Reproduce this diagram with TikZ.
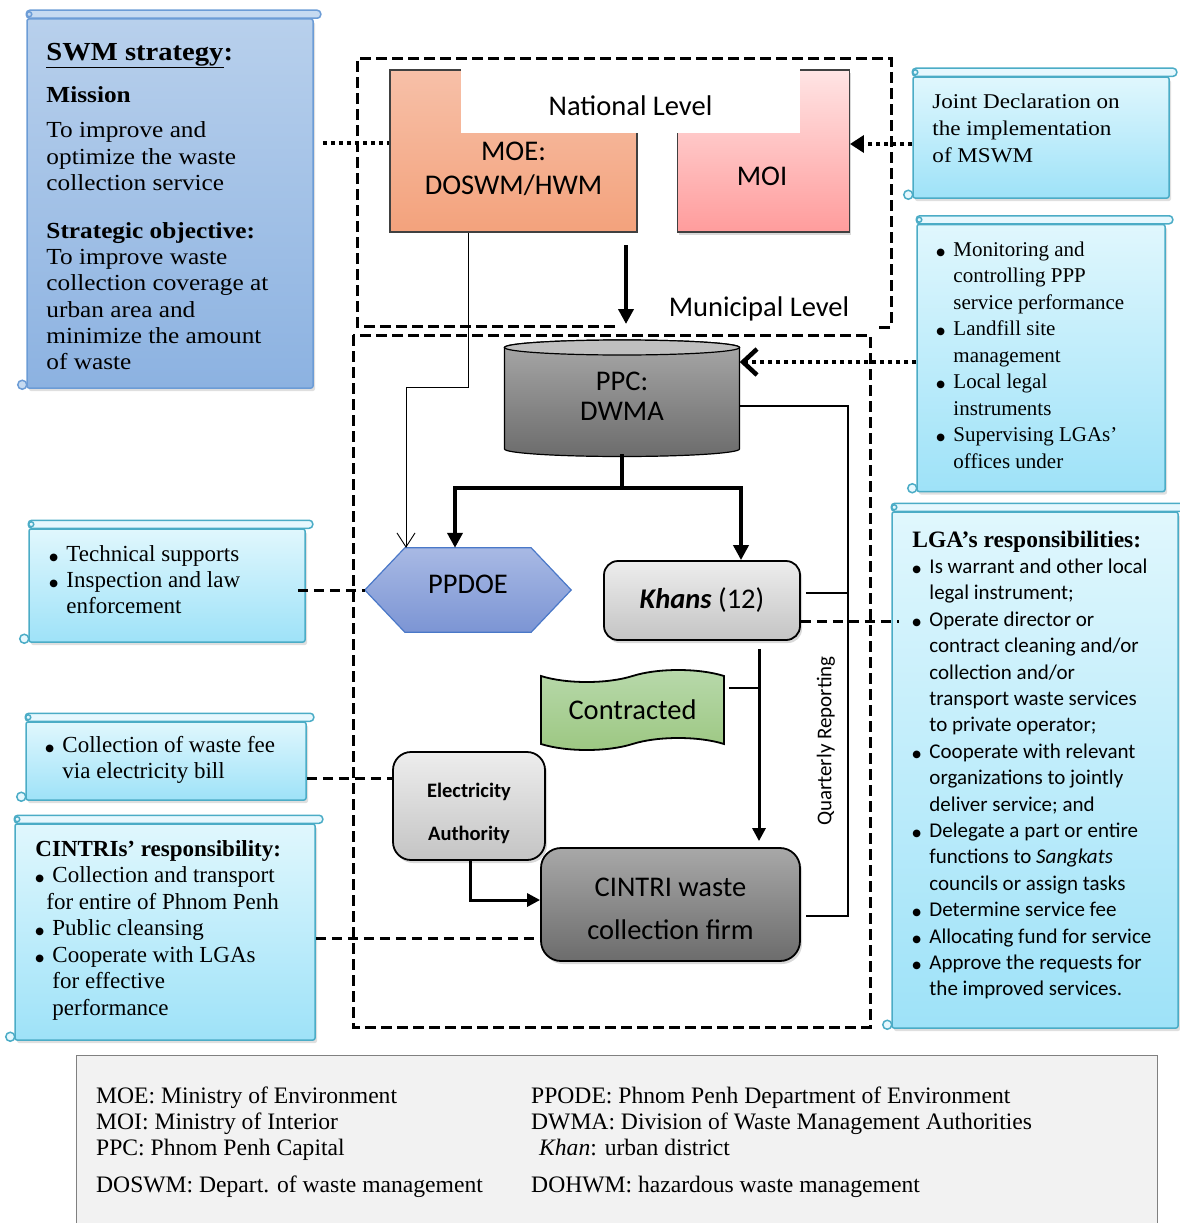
\documentclass[tikz,border=0pt]{standalone}
\usepackage{fontspec}
\setmainfont{Liberation Serif}
\newfontfamily\calibriFont{Carlito}
\newfontfamily\antiquaFont[FakeStretch=1.1]{Liberation Serif}
\newfontfamily\symbolFont{DejaVu Sans}
\usepackage{xcolor}
\definecolor{noteEdge}{HTML}{4BACC6}
\definecolor{noteTop}{HTML}{E0F7FD}
\definecolor{noteBottom}{HTML}{9EE2F8}
\definecolor{noteRim}{HTML}{E6F8FE}
\definecolor{swmEdge}{HTML}{6C9CD6}
\definecolor{swmTop}{HTML}{B8D0EC}
\definecolor{swmBottom}{HTML}{8CB2E1}
\definecolor{swmRim}{HTML}{C6DAF1}
\definecolor{moeTop}{HTML}{F7C0A8}
\definecolor{moeBottom}{HTML}{F3A27C}
\definecolor{moiTop}{HTML}{FFE4E4}
\definecolor{moiBottom}{HTML}{FF9C9C}
\definecolor{hexEdge}{HTML}{4A78C8}
\definecolor{hexTop}{HTML}{A8B9E4}
\definecolor{hexBottom}{HTML}{7C95D4}
\definecolor{greyTop}{HTML}{EDEDED}
\definecolor{greyBottom}{HTML}{C4C4C4}
\definecolor{darkTop}{HTML}{A8A8A8}
\definecolor{darkBottom}{HTML}{6C6C6C}
\definecolor{cylTop}{HTML}{BFBFBF}
\definecolor{tapeTop}{HTML}{B8D9AB}
\definecolor{tapeBottom}{HTML}{9CC781}
\definecolor{legendFill}{HTML}{F2F2F2}
\definecolor{legendEdge}{HTML}{808080}
\usepackage{tikz}
\usetikzlibrary{shapes,arrows,positioning,calc,arrows.meta,shapes.misc,shadows,backgrounds}

\newcommand{\bul}{\makebox[17pt][l]{\raisebox{1pt}{\symbolFont\fontsize{10}{10}\selectfont ●}}}
\newcommand{\ind}{\hspace*{17pt}}

\tikzset{%
  scrollNote/.style={%
    rectangle,
    draw=noteEdge,
    line width=1.5pt,
    top color=noteTop,
    bottom color=noteBottom,
    rounded corners=2pt,
    inner sep=0pt,
    drop shadow={shadow xshift=2pt, shadow yshift=-3pt, opacity=0.25}
  },
  strategyNote/.style={%
    scrollNote,
    draw=swmEdge,
    top color=swmTop,
    bottom color=swmBottom
  },
  scrollRim/.style={%
    line width=1.5pt,
    rounded corners=3.5pt
  },
  noteText/.style={%
    anchor=west,
    inner sep=0pt,
    align=left,
    font=\fontsize{21}{26.5}\selectfont
  },
  labelText/.style={%
    inner sep=0pt,
    align=center,
    font=\calibriFont\fontsize{28.5}{34}\selectfont
  },
  ministryBox/.style={%
    rectangle,
    draw=black!75,
    line width=1.3pt,
    inner sep=0pt
  },
  roundBox/.style={%
    rectangle,
    rounded corners=14pt,
    draw=black,
    line width=1.8pt,
    align=center,
    inner sep=0pt,
    font=\calibriFont\fontsize{28.5}{34}\selectfont,
    drop shadow={shadow xshift=2pt, shadow yshift=-3pt, opacity=0.3}
  },
  tapeBox/.style={%
    tape,
    draw=black,
    line width=1.8pt,
    top color=tapeTop,
    bottom color=tapeBottom,
    tape bend top=in and out,
    tape bend bottom=in and out,
    tape bend height=12pt,
    inner sep=0pt,
    font=\calibriFont\fontsize{28.5}{34}\selectfont
  },
  levelFrame/.style={%
    line width=3pt,
    dash pattern=on 11pt off 5pt
  },
  heavyArrow/.style={%
    -{Triangle[length=15pt,width=15pt]},
    line width=4pt
  },
  flowArrow/.style={%
    -{Triangle[length=13pt,width=13pt]},
    line width=3pt
  },
  thinArrow/.style={%
    -{Straight Barb[length=14pt,width=18pt]},
    line width=0.9pt
  },
  reportLine/.style={%
    line width=2pt
  },
  dashedLink/.style={%
    line width=3pt,
    dash pattern=on 10pt off 6pt
  },
  dottedLink/.style={%
    line width=4pt,
    dash pattern=on 4pt off 4pt
  },
  dottedArrow/.style={%
    dottedLink,
    -{Triangle[length=14pt,width=17pt]}
  },
  chevronArrow/.style={%
    dottedLink,
    -{Straight Barb[length=14pt,width=26pt,line width=4.5pt]}
  },
  legendBox/.style={%
    rectangle,
    draw=legendEdge,
    line width=1.2pt,
    fill=legendFill,
    inner sep=0pt
  }
}

\begin{document}
\begin{tikzpicture}[x=1pt, y=-1pt]
\useasboundingbox (0,0) rectangle (1179,1223);

% level frames
\draw[levelFrame] (615,326) -- (357,326) -- (357,59) -- (891,59) -- (891,327) -- (877,327);
\draw[levelFrame] (353,335) rectangle (870,1027);

% national level
\node[ministryBox, top color=moeTop, bottom color=moeBottom, minimum width=247pt, minimum height=162pt] (moe) at (513.5,151) {};
\node[ministryBox, top color=moiTop, bottom color=moiBottom, minimum width=172pt, minimum height=162pt,
      drop shadow={shadow xshift=2pt, shadow yshift=-3pt, opacity=0.3}, right=39pt of moe] (moi) {};
\node[labelText, fill=white, minimum width=339pt, minimum height=65pt] (natLabel) at (630.5,100.5) {\rule{0pt}{31pt}National Level};
\node[labelText] (moeText) at (513.5,169) {MOE:\\DOSWM/HWM};
\node[labelText] (moiText) at (762,176) {MOI};
\node[labelText] (munLabel) at (759,309) {Municipal Level};

% municipal level
\node[labelText, minimum width=235pt, minimum height=116.5pt, font=\calibriFont\fontsize{28.5}{30}\selectfont] (ppc) at (622,396) {PPC:\\DWMA};
\node[labelText, minimum width=206pt, minimum height=84pt, text depth=12pt] (ppdoe) at (468,590) {PPDOE};
\begin{scope}[on background layer]
  \shadedraw[top color=darkTop, bottom color=darkBottom, draw=black, line width=1.2pt]
    (504.5,347.5) -- (504.5,449) arc[start angle=180, end angle=360, x radius=117.5pt, y radius=7.5pt]
    -- (739.5,347.5) arc[start angle=0, end angle=180, x radius=117.5pt, y radius=7.5pt] -- cycle;
  \draw[fill=cylTop, line width=1.2pt] (622,347.5) ellipse[x radius=117.5pt, y radius=7.5pt];
  \shadedraw[top color=hexTop, bottom color=hexBottom, draw=hexEdge, line width=1.2pt]
    (ppdoe.west) -- ([xshift=40pt]ppdoe.north west) -- ([xshift=-40pt]ppdoe.north east)
    -- (ppdoe.east) -- ([xshift=-40pt]ppdoe.south east) -- ([xshift=40pt]ppdoe.south west) -- cycle;
\end{scope}
\node[roundBox, top color=greyTop, bottom color=greyBottom, minimum width=196pt, minimum height=79pt] (khans) at (702,600.5) {\textbf{\textit{Khans}} (12)};
\node[tapeBox, minimum width=183pt, minimum height=80pt] (contracted) at (632.5,710) {Contracted};
\node[roundBox, rounded corners=18pt, top color=greyTop, bottom color=greyBottom, minimum width=152pt, minimum height=108pt,
      font=\calibriFont\bfseries\fontsize{20.5}{43}\selectfont] (elec) at (469,806) {\rule{0pt}{29pt}Electricity\\Authority};
\node[roundBox, rounded corners=20pt, top color=darkTop, bottom color=darkBottom, minimum width=259pt, minimum height=113pt,
      font=\calibriFont\fontsize{28.5}{43}\selectfont] (cintri) at (670.5,904.5) {\rule{0pt}{28pt}CINTRI waste\\collection firm};
\node[labelText, rotate=90, font=\calibriFont\fontsize{21}{26}\selectfont] (quarterly) at (826,741) {Quarterly Reporting};

% scroll notes
\node[strategyNote, minimum width=286pt, minimum height=369pt] (swm) at (170,203.5) {};
\node[scrollNote, minimum width=256pt, minimum height=121pt] (joint) at (1041,137.5) {};
\node[scrollNote, minimum width=248pt, minimum height=267pt, below=25pt of joint] (monitor) {};
\node[scrollNote, minimum width=276pt, minimum height=113pt] (tech) at (167,585.5) {};
\node[scrollNote, minimum width=280pt, minimum height=78pt] (fee) at (166,761) {};
\node[scrollNote, minimum width=300pt, minimum height=216pt] (cresp) at (165,932) {};
\node[scrollNote, minimum width=286pt, minimum height=516pt] (lga) at (1035,770) {};
\foreach \n/\e/\f in {swm/swmEdge/swmRim, joint/noteEdge/noteRim, monitor/noteEdge/noteRim, tech/noteEdge/noteRim,
                      fee/noteEdge/noteRim, cresp/noteEdge/noteRim, lga/noteEdge/noteRim} {
  \draw[scrollRim, draw=\e, fill=\f] (\n.north west) rectangle ([xshift=7pt,yshift=8pt]\n.north east);
  \draw[scrollRim, draw=\e, fill=\f] ([xshift=3pt,yshift=4pt]\n.north west) circle (2.5pt);
  \draw[scrollRim, draw=\e, fill=\f] ([xshift=-4pt,yshift=4pt]\n.south west) circle (4.5pt);
}

\node[noteText, font=\antiquaFont\fontsize{23}{26.2}\selectfont] (swmText) at ([xshift=20pt,yshift=-3pt]swm.west) {%
  {\fontsize{26}{30}\selectfont\textbf{\underline{SWM strategy}:}}\\[16pt]
  \textbf{Mission}\\[9pt]
  To improve and\\
  optimize the waste\\
  collection service\\[22pt]
  \textbf{Strategic objective:}\\
  To improve waste\\
  collection coverage at\\
  urban area and\\
  minimize the amount\\
  of waste};
\node[noteText, font=\antiquaFont\fontsize{21}{27}\selectfont] (jointText) at ([xshift=20pt,yshift=9pt]joint.west) {%
  Joint Declaration on\\
  the implementation\\
  of MSWM};
\node[noteText] (monitorText) at ([xshift=20pt,yshift=3pt]monitor.west) {%
  \bul Monitoring and\\
  \ind controlling PPP\\
  \ind service performance\\
  \bul Landfill site\\
  \ind management\\
  \bul Local legal\\
  \ind instruments\\
  \bul Supervising LGAs’\\
  \ind offices under};
\node[noteText, font=\fontsize{23}{26}\selectfont] (techText) at ([xshift=21pt,yshift=6pt]tech.west) {%
  \bul Technical supports\\
  \bul Inspection and law\\
  \ind enforcement};
\node[noteText, font=\fontsize{23}{26.5}\selectfont] (feeText) at ([xshift=20pt,yshift=1pt]fee.west) {%
  \bul Collection of waste fee\\
  \ind via electricity bill};
\node[noteText, font=\fontsize{23}{26.5}\selectfont] (crespText) at ([xshift=21pt,yshift=2pt]cresp.west) {%
  \textbf{CINTRIs’ responsibility:}\\
  \bul Collection and transport\\
  \hspace*{11pt}for entire of Phnom Penh\\
  \bul Public cleansing\\
  \bul Cooperate with LGAs\\
  \ind for effective\\
  \ind performance};
\node[noteText, font=\calibriFont\fontsize{21}{26.4}\selectfont] (lgaText) at ([xshift=21pt,yshift=5pt]lga.west) {%
  {\rmfamily\bfseries\fontsize{23.5}{26}\selectfont LGA’s responsibilities:}\\
  \bul Is warrant and other local\\
  \ind legal instrument;\\
  \bul Operate director or\\
  \ind contract cleaning and/or\\
  \ind collection and/or\\
  \ind transport waste services\\
  \ind to private operator;\\
  \bul Cooperate with relevant\\
  \ind organizations to jointly\\
  \ind deliver service; and\\
  \bul Delegate a part or entire\\
  \ind functions to \textit{Sangkats}\\
  \ind councils or assign tasks\\
  \bul Determine service fee\\
  \bul Allocating fund for service\\
  \bul Approve the requests for\\
  \ind the improved services.};

% connectors
\coordinate (natDrop) at (626,245);
\coordinate (munEntry) at (626,324);
\draw[heavyArrow] (natDrop) -- (munEntry);
\draw[thinArrow] ([xshift=-45.5pt]moe.south) -- ++(0,155) -| ([xshift=-62pt]ppdoe.north);
\draw[line width=4.5pt] (ppc.south) -- ++(0,33.5) coordinate (fork);
\draw[heavyArrow, line width=4.5pt] (fork) -| ([xshift=-13pt]ppdoe.north);
\draw[heavyArrow, line width=4.5pt] (fork) -| ([xshift=39pt]khans.north);
\draw[reportLine] ([yshift=-10pt]ppc.east) -- ++(108.5,0) coordinate (repBus) |- ([xshift=5pt,yshift=-11.5pt]cintri.east);
\draw[reportLine] ([xshift=5pt,yshift=7.5pt]khans.east) -| (repBus);
\coordinate (khansDrop) at ([xshift=57pt,yshift=-8pt]khans.south);
\draw[flowArrow, shorten >=6pt] (khansDrop) -- (khansDrop |- cintri.north);
\draw[reportLine] ([xshift=4pt,yshift=22pt]contracted.east) -| (khansDrop);
\draw[flowArrow] ([xshift=1pt]elec.south) |- ([yshift=4.5pt]cintri.west);

\draw[dashedLink] ($(tech.east |- ppdoe.west)+(-8,0)$) -- (ppdoe.west);
\draw[dashedLink] ($(elec.west -| fee.east)+(0,-28)$) -- ($(elec.west)+(0,-28)$);
\draw[dashedLink] ($(cintri.west -| cresp.east)+(0,33.5)$) -- ($(cintri.west)+(0,33.5)$);
\draw[dashedLink] ($(khans.east)+(0,20.5)$) -- ($(khans.east -| lga.west)+(8,20.5)$);

\draw[dottedLink] ($(moe.west -| swm.east)+(9,-8)$) -- ($(moe.west)+(0,-8)$);
\draw[dottedArrow] ($(moi.east -| joint.west)+(0,-7)$) -- ($(moi.east)+(0,-7)$);
\draw[chevronArrow] ($(ppc.east -| monitor.west)+(0,-34)$) -- ($(ppc.east)+(0,-34)$);

% legend
\node[legendBox, anchor=north west, minimum width=1081pt, minimum height=200pt] (legend) at (76,1055) {};
\node[anchor=north west, inner sep=0pt, font=\fontsize{23.6}{26}\selectfont] (legendText) at (96,1085) {%
  \begin{tabular}{@{}p{435pt}@{}l@{}}
  MOE: Ministry of Environment & PPODE: Phnom Penh Department of Environment\\
  MOI: Ministry of Interior & DWMA: Division of Waste Management Authorities\\
  PPC: Phnom Penh Capital & \hspace{8pt}\textit{Khan}: urban district\\[11pt]
  DOSWM: Depart. of waste management & DOHWM: hazardous waste management
  \end{tabular}};
\end{tikzpicture}
\end{document}
